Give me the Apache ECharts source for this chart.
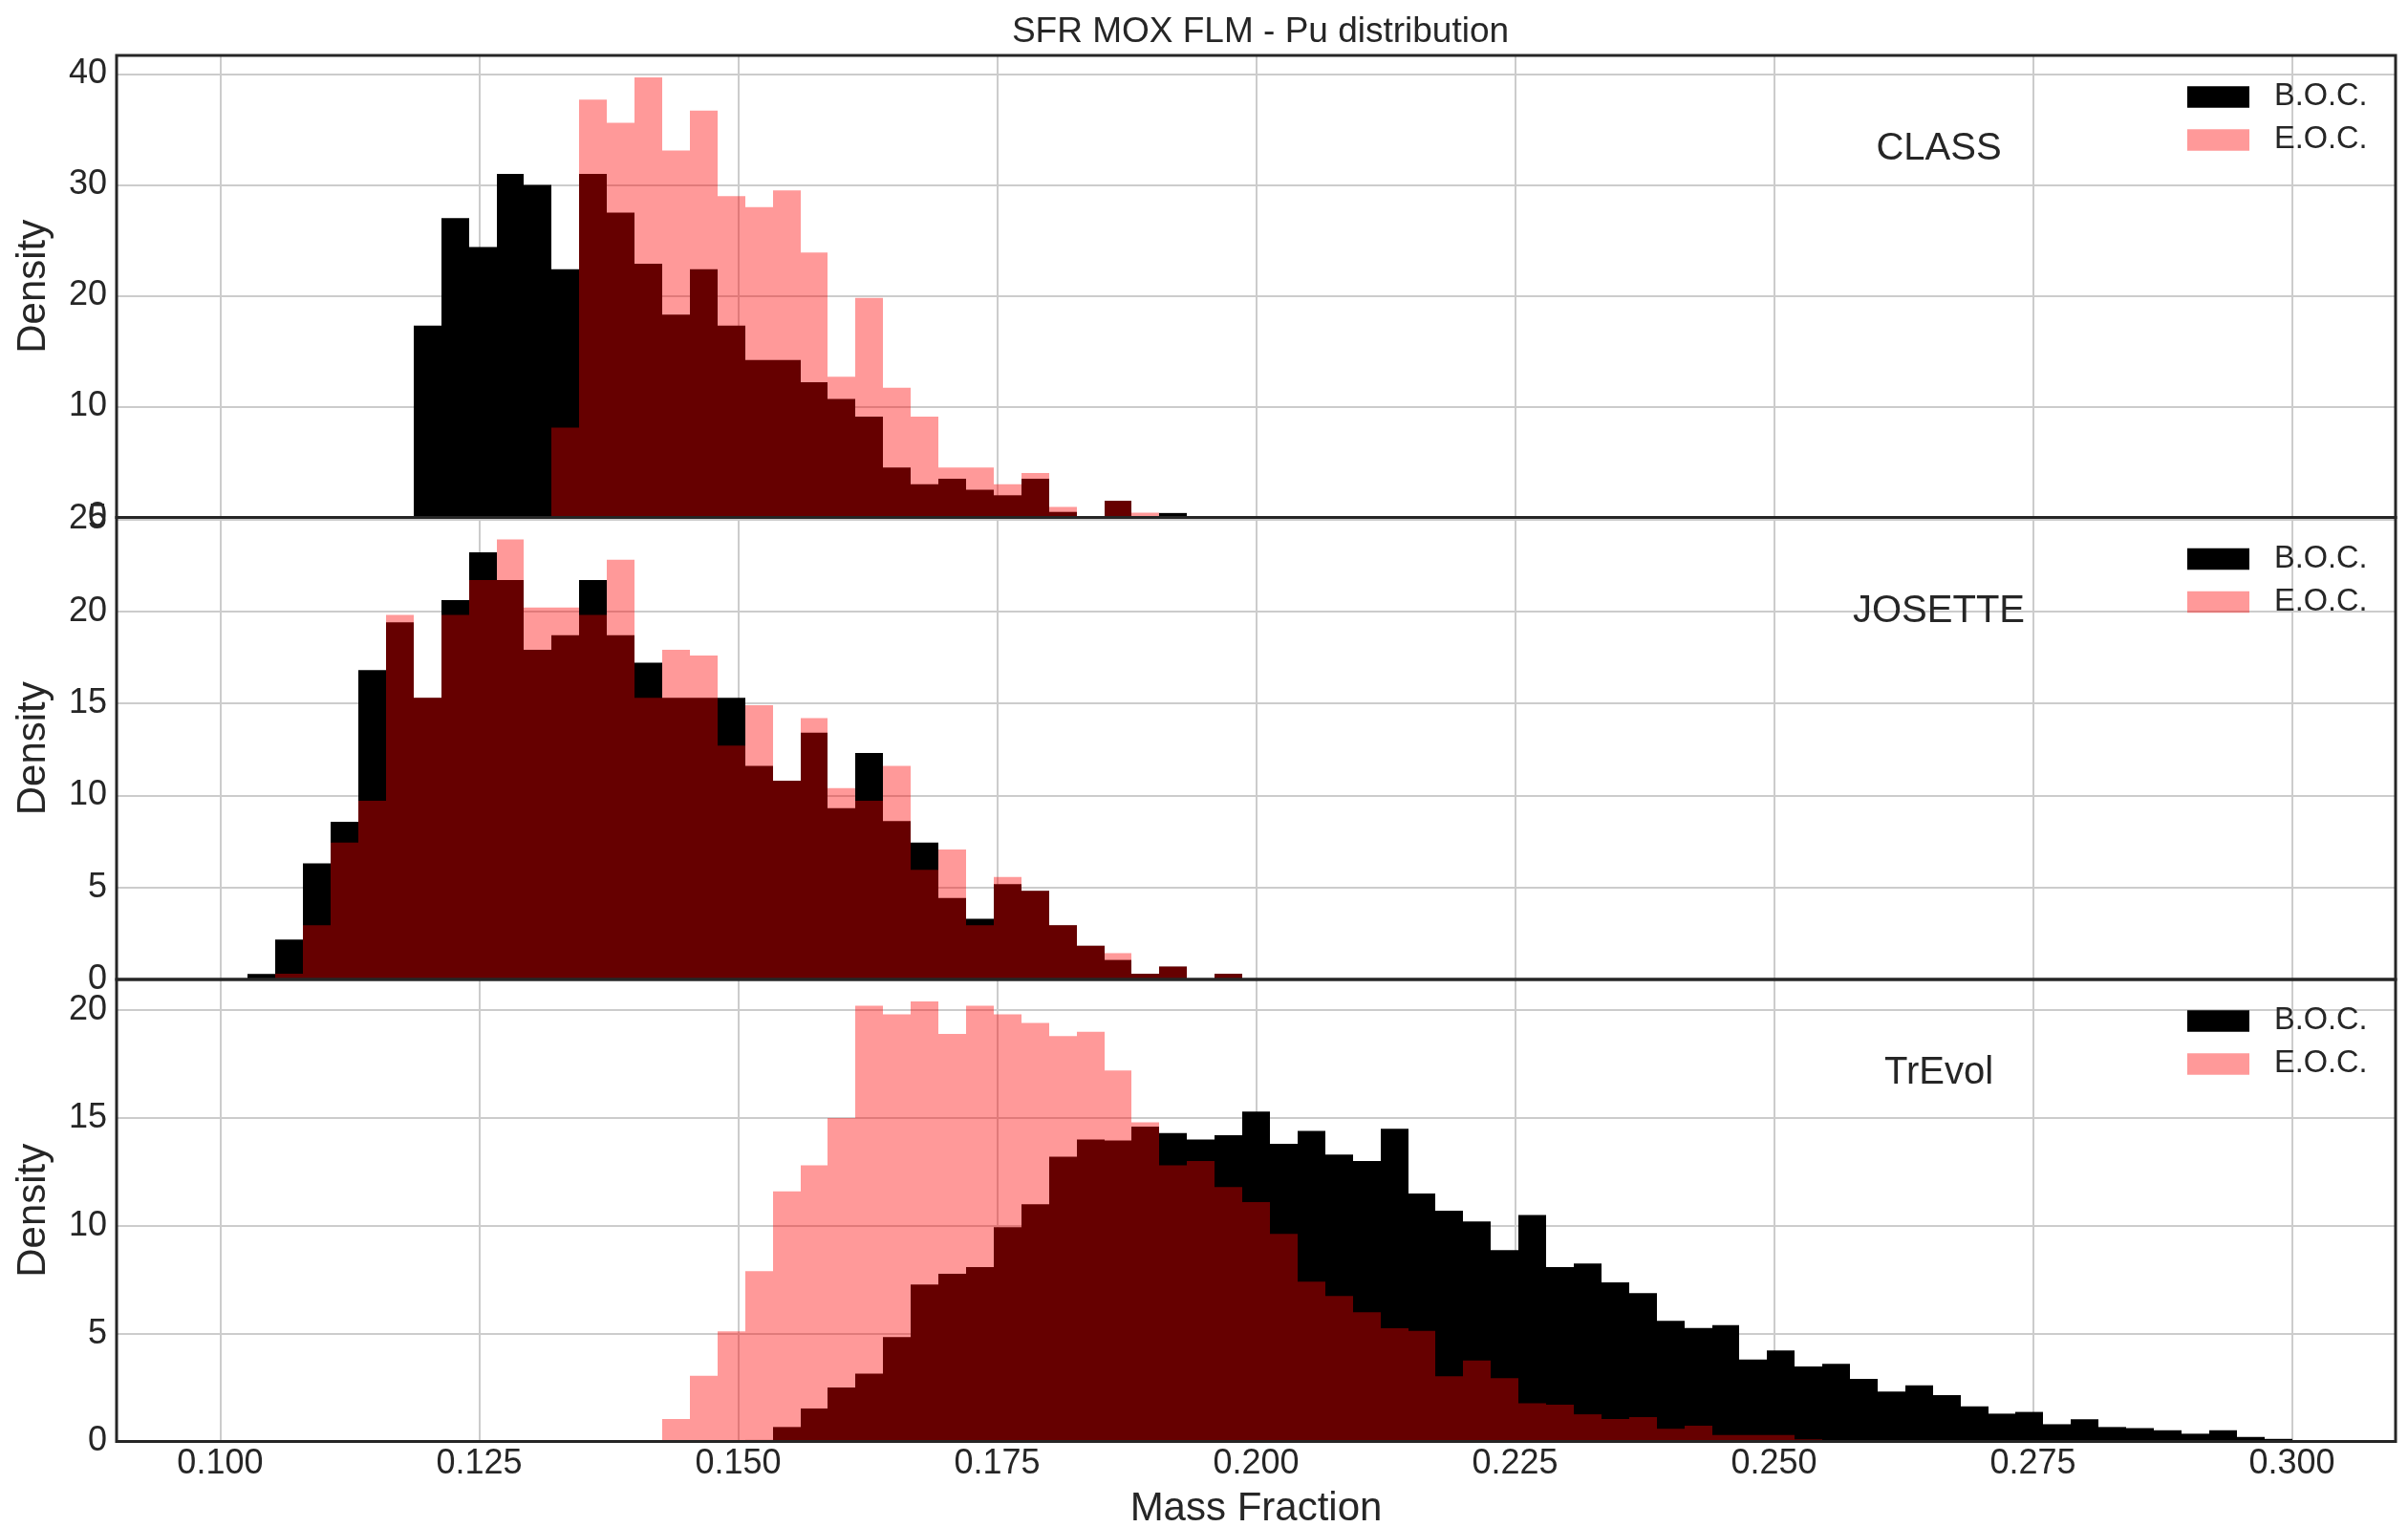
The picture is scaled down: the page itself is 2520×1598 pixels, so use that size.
<!DOCTYPE html>
<html>
<head>
<meta charset="utf-8">
<title>SFR MOX FLM - Pu distribution</title>
<script src="https://cdn.jsdelivr.net/npm/echarts@6/dist/echarts.min.js"></script>
<style>
  html, body { margin: 0; padding: 0; background: #fff; }
  #main { width: 2520px; height: 1598px; }
</style>
</head>
<body>
<div id="main"></div>
<script>
// shared histogram bins: 75 bins between 0.1 and 0.3
var binLow = 0.1, binHigh = 0.3, binCount = 75;
var binEdges = [];
for (var i = 0; i <= binCount; i++) {
    binEdges.push(binLow + (binHigh - binLow) * i / binCount);
}

var xTicks = [0.100, 0.125, 0.150, 0.175, 0.200, 0.225, 0.250, 0.275, 0.300];
var panelNames = ['CLASS', 'JOSETTE', 'TrEvol'];
var yIntervals = [10, 5, 5];

// densities per bin, the first value belongs to bin index *Start
var classBocStart = 7;
var classBoc = [17.3, 27.0, 24.4, 31.0, 30.0, 22.4, 31.0, 27.5, 22.9, 18.3,
    22.4, 17.3, 14.2, 14.2, 12.2, 10.7, 9.1, 4.5, 3.0, 3.5,
    2.5, 2.0, 3.5, 0.5, 0, 1.5, 0, 0.4];
var classEocStart = 12;
var classEoc = [8.1, 37.7, 35.6, 39.7, 33.1, 36.7, 29.0, 28.0, 29.5, 23.9,
    12.7, 19.8, 11.7, 9.1, 4.5, 4.5, 3.0, 4.0, 0.95, 0,
    1.5, 0.43];

var josetteBocStart = 1;
var josetteBoc = [0.3, 2.17, 6.3, 8.57, 16.8, 19.4, 15.3, 20.6, 23.2, 21.7,
    17.9, 18.7, 21.7, 18.7, 17.2, 15.3, 15.3, 15.3, 11.6, 10.8,
    13.4, 9.3, 12.3, 8.6, 7.44, 4.43, 3.3, 5.18, 4.82, 2.94,
    1.83, 1.06, 0.31, 0.7, 0, 0.31];
var josetteEocStart = 2;
var josetteEoc = [0.31, 2.94, 7.44, 9.7, 19.8, 15.3, 19.8, 21.7, 23.9, 20.2,
    20.2, 19.8, 22.8, 15.3, 17.9, 17.6, 12.7, 14.9, 10.8, 14.2,
    10.4, 9.7, 11.6, 5.95, 7.06, 2.94, 5.57, 4.82, 2.94, 1.83,
    1.43, 0.31, 0.7, 0, 0.31];

var trevolBocStart = 19;
var trevolBoc = [0.07, 0.67, 1.53, 2.5, 3.14, 4.84, 7.28, 7.77, 8.08, 9.94,
    11.0, 13.2, 14.0, 13.95, 14.6, 14.3, 14.0, 14.2, 15.3, 13.8,
    14.4, 13.3, 13.0, 14.5, 11.5, 10.7, 10.2, 8.87, 10.5, 8.08,
    8.25, 7.38, 6.88, 5.59, 5.26, 5.39, 3.80, 4.22, 3.48, 3.60,
    2.90, 2.32, 2.60, 2.15, 1.63, 1.29, 1.37, 0.80, 1.03, 0.67,
    0.62, 0.52, 0.36, 0.52, 0.21, 0.12];
var trevolEocStart = 16;
var trevolEoc = [1.04, 3.05, 5.11, 7.9, 11.6, 12.8, 15.0, 20.2, 19.8, 20.4,
    18.9, 20.2, 19.8, 19.4, 18.8, 19.0, 17.2, 14.8, 12.8, 13.0,
    11.8, 11.1, 9.63, 7.41, 6.75, 5.99, 5.25, 5.13, 3.02, 3.76,
    2.94, 1.77, 1.71, 1.26, 1.04, 1.13, 0.59, 0.73, 0.30, 0.30,
    0.30, 0.1, 0, 0, 0.05];

var bocList = [[classBocStart, classBoc], [josetteBocStart, josetteBoc], [trevolBocStart, trevolBoc]];
var eocList = [[classEocStart, classEoc], [josetteEocStart, josetteEoc], [trevolEocStart, trevolEoc]];

// layout
var gridLeft = 122, gridWidth = 2385, gridHeight = 483.5;
var gridTops = [58, 541.5, 1025];
var textColor = '#262626';
var fontFamily = 'Liberation Sans, Arial, sans-serif';

function toBars(start, values) {
    var out = [];
    for (var i = 0; i < values.length; i++) {
        if (values[i] > 0) {
            out.push([binEdges[start + i], binEdges[start + i + 1], values[i]]);
        }
    }
    return out;
}

function renderBar(params, api) {
    var top = api.coord([api.value(0), api.value(2)]);
    var base = api.coord([api.value(1), 0]);
    var x0 = Math.round(top[0]), x1 = Math.round(base[0]);
    return {
        type: 'rect',
        shape: {x: x0, y: top[1], width: x1 - x0, height: base[1] - top[1]},
        style: {fill: api.visual('color')}
    };
}

var grids = [], xAxes = [], yAxes = [], series = [], legends = [], frames = [];
var titles = [{
    text: 'SFR MOX FLM - Pu distribution',
    left: 1314, top: 10, textAlign: 'center',
    textStyle: {color: textColor, fontSize: 37, fontWeight: 'normal', fontFamily: fontFamily}
}];

for (var p = 0; p < 3; p++) {
    var last = p === 2;
    grids.push({
        left: gridLeft, width: gridWidth, top: gridTops[p], height: gridHeight,
        outerBoundsMode: 'none'
    });
    xAxes.push({
        type: 'value', gridIndex: p, min: 0.09, max: 0.31,
        name: last ? 'Mass Fraction' : '',
        nameLocation: 'middle', nameGap: 50,
        nameTextStyle: {color: textColor, fontSize: 42, fontFamily: fontFamily},
        axisLine: {show: false},
        axisTick: {show: false, customValues: xTicks},
        axisLabel: {
            show: last, customValues: xTicks, margin: 6,
            color: textColor, fontSize: 36, fontFamily: fontFamily,
            formatter: function (v) { return v.toFixed(3); }
        },
        splitLine: {show: true, lineStyle: {color: '#cccccc', width: 2}}
    });
    yAxes.push({
        type: 'value', gridIndex: p, min: 0, interval: yIntervals[p],
        max: function (v) { return v.max * 1.05; },
        name: 'Density', nameLocation: 'middle', nameRotate: 90, nameGap: 66,
        nameTextStyle: {color: textColor, fontSize: 42, fontFamily: fontFamily},
        axisLine: {show: false},
        axisTick: {show: false},
        axisLabel: {
            showMaxLabel: false, margin: 10,
            color: textColor, fontSize: 36, fontFamily: fontFamily
        },
        splitLine: {show: true, lineStyle: {color: '#cccccc', width: 2}}
    });
    series.push({
        name: 'B.O.C.', type: 'custom', xAxisIndex: p, yAxisIndex: p,
        renderItem: renderBar,
        itemStyle: {color: '#000000'},
        encode: {x: [0, 1], y: 2},
        data: toBars(bocList[p][0], bocList[p][1])
    });
    series.push({
        name: 'E.O.C.', type: 'custom', xAxisIndex: p, yAxisIndex: p,
        renderItem: renderBar,
        itemStyle: {color: 'rgba(255,0,0,0.4)'},
        encode: {x: [0, 1], y: 2},
        data: toBars(eocList[p][0], eocList[p][1])
    });
    legends.push({
        data: ['B.O.C.', 'E.O.C.'], orient: 'vertical',
        left: 2284, top: gridTops[p] + 22,
        icon: 'rect', itemWidth: 65, itemHeight: 22.5, itemGap: 12,
        selectedMode: false,
        textStyle: {color: textColor, fontSize: 32.5, fontFamily: fontFamily, padding: [0, 0, 0, 21]}
    });
    titles.push({
        text: panelNames[p],
        left: 2024, top: gridTops[p] + 73, textAlign: 'center',
        textStyle: {color: textColor, fontSize: 40, fontWeight: 'normal', fontFamily: fontFamily}
    });
    // dark axes frame drawn over grid lines and bars
    frames.push({
        type: 'rect', z: 100, silent: true,
        shape: {x: gridLeft, y: gridTops[p], width: gridWidth, height: gridHeight},
        style: {fill: null, stroke: textColor, lineWidth: 3}
    });
}

var chart = echarts.init(document.getElementById('main'));
chart.setOption({
    backgroundColor: '#ffffff',
    animation: false,
    title: titles,
    legend: legends,
    grid: grids,
    xAxis: xAxes,
    yAxis: yAxes,
    series: series,
    graphic: frames
});
</script>
</body>
</html>
